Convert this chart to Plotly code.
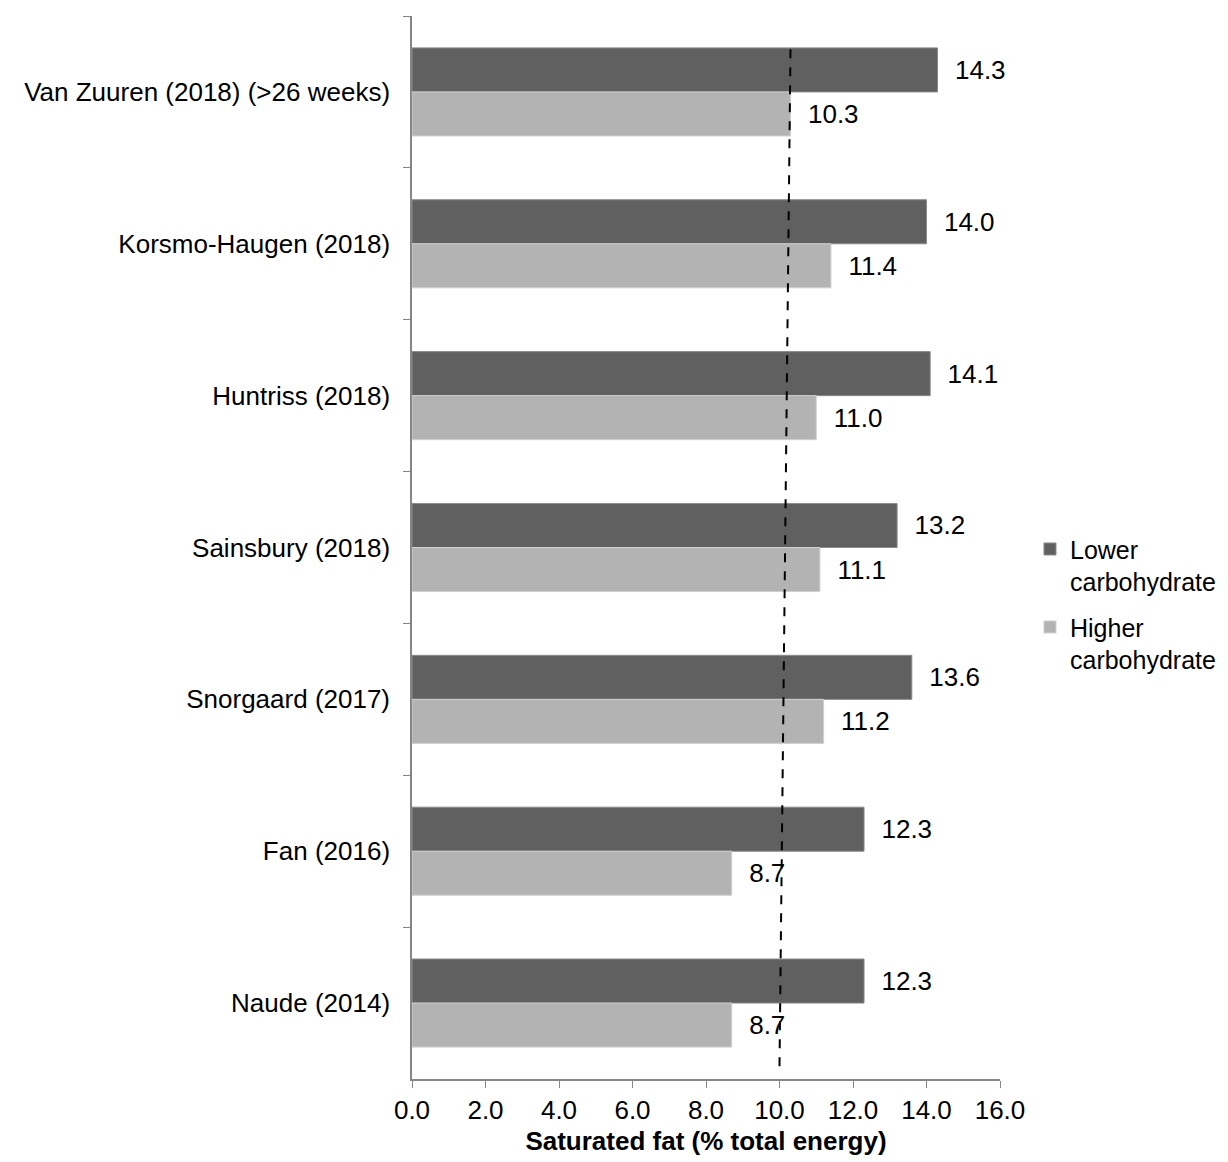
import plotly.graph_objects as go

studies = ["Van Zuuren (2018) (>26 weeks)", "Korsmo-Haugen (2018)", "Huntriss (2018)",
           "Sainsbury (2018)", "Snorgaard (2017)", "Fan (2016)", "Naude (2014)"]
lower_carb = [14.3, 14.0, 14.1, 13.2, 13.6, 12.3, 12.3]
higher_carb = [10.3, 11.4, 11.0, 11.1, 11.2, 8.7, 8.7]
ref_line_x = [10.0, 10.3]   # dashed reference line (bottom, top)
ref_line_y = [0.012, 0.972]
x_ticks = [0, 2, 4, 6, 8, 10, 12, 14, 16]

FONT = "Liberation Sans, Arial, sans-serif"
FS = 26
pad = "\u00a0" * 2

fig = go.Figure()
fig.add_trace(go.Bar(
    y=studies, x=lower_carb, orientation="h", name="Lower<br>carbohydrate",
    legendgroup="lower",
    marker=dict(color="#606060", line=dict(color="#8a8a8a", width=1)),
    text=[pad + f"{v:.1f}" for v in lower_carb], textposition="outside",
    textfont=dict(size=FS, color="black", family=FONT), cliponaxis=False,
))
fig.add_trace(go.Bar(
    y=studies, x=higher_carb, orientation="h", name="Higher<br>carbohydrate",
    legendgroup="higher",
    marker=dict(color="#b3b3b3", line=dict(color="#d0d0d0", width=1)),
    text=[pad + f"{v:.1f}" for v in higher_carb], textposition="outside",
    textfont=dict(size=FS, color="black", family=FONT), cliponaxis=False,
))

fig.add_shape(type="line", xref="x", yref="paper",
              x0=ref_line_x[0], x1=ref_line_x[1], y0=ref_line_y[0], y1=ref_line_y[1],
              line=dict(color="black", width=2, dash="dash"))

fig.update_layout(
    width=1220, height=1154,
    margin=dict(l=404, r=228, t=8, b=83, autoexpand=False),
    plot_bgcolor="white", paper_bgcolor="white",
    barmode="group", bargap=0.42, bargroupgap=0,
    font=dict(family=FONT, size=FS, color="black"),
    legend=dict(x=1.051, y=0.520, xanchor="left", yanchor="top", valign="top",
                font=dict(size=25, family=FONT), itemwidth=30,
                tracegroupgap=10, bgcolor="rgba(0,0,0,0)"),
    showlegend=True,
)
fig.update_xaxes(
    range=[0, 16], tickvals=x_ticks, tickformat=".1f",
    showgrid=False, zeroline=False, showline=True, linecolor="#868686", linewidth=1.5,
    ticks="outside", ticklen=7, tickcolor="#868686",
    tickfont=dict(size=FS, family=FONT),
    title=dict(text="<b>Saturated fat (% total energy)</b>", font=dict(size=FS, family=FONT), standoff=8),
    automargin=False,
)
fig.update_yaxes(
    autorange="reversed", type="category", tickson="boundaries",
    showgrid=False, showline=True, linecolor="#868686", linewidth=1.5,
    ticks="outside", ticklen=7, tickcolor="#868686",
    tickfont=dict(size=FS, family=FONT), ticklabelstandoff=15,
    automargin=False,
)

fig.write_html("out.html")
